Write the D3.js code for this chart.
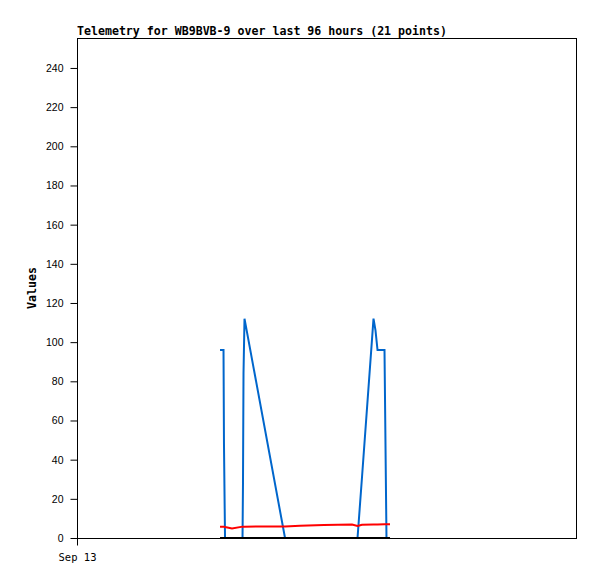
<!DOCTYPE html>
<html><head><meta charset="utf-8">
<script src="https://cdn.jsdelivr.net/npm/d3@7"></script>
<style>body{margin:0;background:#fff}</style>
</head><body>
<script>
const title = "Telemetry for WB9BVB-9 over last 96 hours (21 points)";
const yLabel = "Values";
const yTicks = [0,20,40,60,80,100,120,140,160,180,200,220,240];
const xTickLabel = "Sep 13";
// hours after Sep 13 00:00
const hours = [27.46,28.13,28.22,28.42,29.76,31.78,31.87,31.97,32.16,39.94,42.82,47.42,52.80,53.86,54.72,56.93,57.31,57.70,59.04,59.42,60.10];
const blueVals = [96,96,48,0,0,0,28,84,112,0,0,0,0,0,31,112,106,96,96,0,0];
const redVals = [5.8,5.8,5.8,5.6,4.8,5.8,5.8,5.8,5.8,5.9,6.2,6.7,6.9,6.1,6.8,6.9,6.9,6.9,7.0,7.0,7.0];
const blackVals = [0,0,0,0,0,0,0,0,0,0,0,0,0,0,0,0,0,0,0,0,0];

const W=597,H=579, L=77,R=577,T=38,B=538;
const svg=d3.select("body").append("svg").attr("width",W).attr("height",H);
const t0=new Date(2023,8,13,0,0,0);
const toDate=h=>new Date(t0.getTime()+h*3600e3);
const x=d3.scaleTime().domain([t0,toDate(96)]).range([L,R]);
const y=d3.scaleLinear().domain([0,255.3]).range([B,T]);

svg.append("text").attr("x",L).attr("y",35).text(title)
  .attr("font-family","DejaVu Sans Mono").attr("font-weight","bold").attr("font-size","11.6px");

// frame
svg.append("rect").attr("x",L+0.5).attr("y",T+0.5).attr("width",R-L-1).attr("height",B-T)
  .attr("fill","none").attr("stroke","#000").attr("stroke-width",1);

// y axis
const ya=svg.append("g").attr("transform",`translate(${L+0.5},0)`)
  .call(d3.axisLeft(y).tickValues(yTicks).tickSize(7).tickPadding(7).tickFormat(d3.format("d")));
ya.select(".domain").remove();
ya.selectAll("text").attr("font-family","Liberation Sans, Arial").attr("font-size","10.5px").attr("fill","#000");

// x axis
const xa=svg.append("g").attr("transform",`translate(0,${B+0.5})`)
  .call(d3.axisBottom(x).tickValues([t0]).tickSize(7).tickPadding(8).tickFormat(()=>xTickLabel));
xa.select(".domain").remove();
xa.selectAll("text").attr("font-family","DejaVu Sans Mono").attr("font-size","10.5px").attr("fill","#000");

svg.append("text").attr("transform",`translate(36,${(T+B)/2}) rotate(-90)`).attr("text-anchor","middle")
  .text(yLabel).attr("font-family","DejaVu Sans Mono").attr("font-weight","bold").attr("font-size","11.6px");

const line=vals=>d3.line().x((d,i)=>x(toDate(hours[i]))).y(d=>y(d))(vals);
svg.append("path").attr("d",line(blueVals)).attr("fill","none").attr("stroke","#0066cc").attr("stroke-width",2);
svg.append("path").attr("d",line(redVals)).attr("fill","none").attr("stroke","#ff0000").attr("stroke-width",2);
svg.append("path").attr("d",line(blackVals)).attr("fill","none").attr("stroke","#000").attr("stroke-width",2);
</script>
</body></html>
